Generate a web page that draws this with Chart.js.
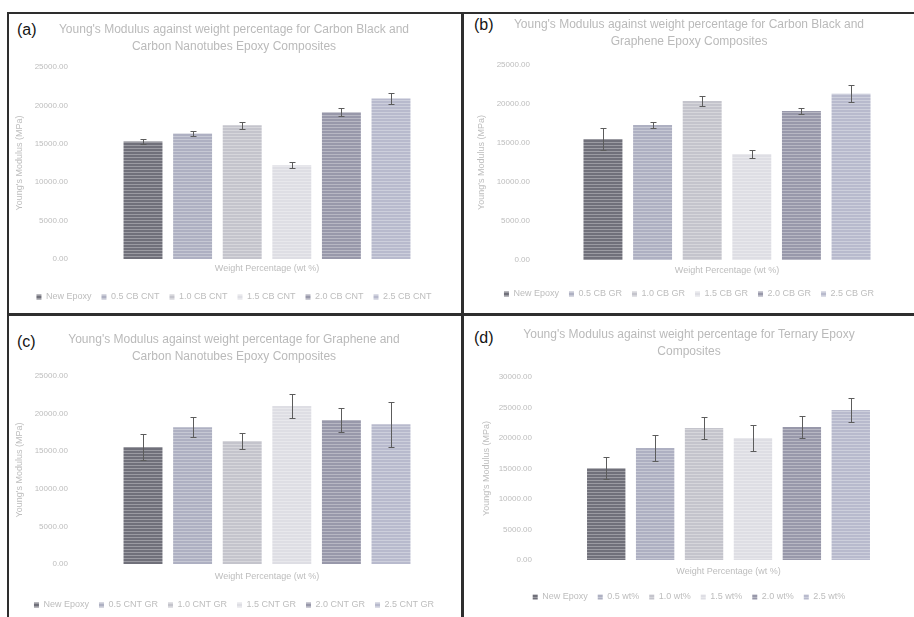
<!DOCTYPE html>
<html>
<head>
<meta charset="utf-8">
<script src="https://cdn.jsdelivr.net/npm/chart.js@4.4.0/dist/chart.umd.min.js"></script>
<style>
  body { margin: 0; background: #fff; width: 914px; height: 617px; overflow: hidden; position: relative; font-family: "Liberation Sans", Arial, sans-serif; }
  canvas, .line, .tag { position: absolute; }
  .line { background: #2e2e2e; }
  .tag { font-size: 16px; line-height: 16px; color: #141414; }
</style>
</head>
<body>
<div class="line" style="left:7px;top:12px;width:907px;height:2px"></div>
<div class="line" style="left:7px;top:12px;width:2px;height:605px"></div>
<div class="line" style="left:461px;top:12px;width:3px;height:605px"></div>
<div class="line" style="left:7px;top:313px;width:907px;height:3px"></div>
<div class="tag" style="left:17px;top:22px">(a)</div>
<div class="tag" style="left:474px;top:17px">(b)</div>
<div class="tag" style="left:17px;top:334px">(c)</div>
<div class="tag" style="left:474px;top:330px">(d)</div>
<canvas id="chartA" width="452" height="299" style="left:9px;top:14px"></canvas>
<canvas id="chartB" width="450" height="299" style="left:464px;top:14px"></canvas>
<canvas id="chartC" width="452" height="310" style="left:9px;top:316px"></canvas>
<canvas id="chartD" width="450" height="310" style="left:464px;top:316px"></canvas>
<script>
'use strict';

// Séries (uma barra por série, como no Excel)
const seriesA = ['New Epoxy', '0.5 CB CNT', '1.0 CB CNT', '1.5 CB CNT', '2.0 CB CNT', '2.5 CB CNT'];
const seriesB = ['New Epoxy', '0.5 CB GR', '1.0 CB GR', '1.5 CB GR', '2.0 CB GR', '2.5 CB GR'];
const seriesC = ['New Epoxy', '0.5 CNT GR', '1.0 CNT GR', '1.5 CNT GR', '2.0 CNT GR', '2.5 CNT GR'];
const seriesD = ['New Epoxy', '0.5 wt%', '1.0 wt%', '1.5 wt%', '2.0 wt%', '2.5 wt%'];

// Módulo de Young (MPa)
const modulusA = [15300, 16350, 17400, 12200, 19100, 20900];
const modulusB = [15500, 17300, 20400, 13600, 19100, 21300];
const modulusC = [15550, 18200, 16350, 21000, 19150, 18600];
const modulusD = [15050, 18350, 21650, 20000, 21800, 24600];

// Barras de erro (+/-)
const errorA = [300, 300, 500, 400, 500, 700];
const errorB = [1400, 400, 600, 500, 400, 1100];
const errorC = [1700, 1300, 1100, 1600, 1650, 3000];
const errorD = [1800, 2100, 1800, 2100, 1800, 2000];

// Eixo Y
const yMaxA = 25000, yMaxB = 25000, yMaxC = 25000, yMaxD = 30000;
const yStep = 5000;

// Títulos
const titleA = ["Young's Modulus against weight percentage for Carbon Black and", 'Carbon Nanotubes Epoxy Composites'];
const titleB = ["Young's Modulus against weight percentage for Carbon Black and", 'Graphene Epoxy Composites'];
const titleC = ["Young's Modulus against weight percentage for Graphene and", 'Carbon Nanotubes Epoxy Composites'];
const titleD = ["Young's Modulus against weight percentage for Ternary Epoxy", 'Composites'];
const xTitle = 'Weight Percentage (wt %)';
const yTitle = "Young's Modulus (MPa)";

// Cores das barras (tons de cinza da digitalização)
const barColors = ['#70707a', '#aeb0c2', '#c4c4cc', '#dedee4', '#9898aa', '#b8bacd'];
const textColor = '#bdbdbd';

// Textura de linhas horizontais para imitar a impressão
function stripes(color) {
    const c = document.createElement('canvas');
    c.width = 4; c.height = 3;
    const g = c.getContext('2d');
    g.fillStyle = color;
    g.fillRect(0, 0, 4, 3);
    g.fillStyle = 'rgba(255,255,255,0.3)';
    g.fillRect(0, 2, 4, 1);
    return g.createPattern(c, 'repeat');
}

// Plugin simples para as barras de erro
const errorBars = {
    id: 'errorBars',
    afterDatasetsDraw(chart, args, opts) {
        const ctx = chart.ctx;
        const y = chart.scales.y;
        ctx.save();
        ctx.strokeStyle = '#5c5c5c';
        ctx.lineWidth = 1;
        chart.data.datasets.forEach((ds, i) => {
            const bar = chart.getDatasetMeta(i).data[0];
            const v = ds.data[0];
            const e = opts.errors[i];
            const x = Math.round(bar.x) + 0.5;
            const yT = Math.round(y.getPixelForValue(v + e)) + 0.5;
            const yB = Math.round(y.getPixelForValue(v - e)) + 0.5;
            ctx.beginPath();
            ctx.moveTo(x, yT); ctx.lineTo(x, yB);
            ctx.moveTo(x - 3, yT); ctx.lineTo(x + 3, yT);
            ctx.moveTo(x - 3, yB); ctx.lineTo(x + 3, yB);
            ctx.stroke();
        });
        ctx.restore();
    }
};

function renderPanel(id, title, series, values, errors, yMax, g) {
    const pTop = g.t1 - 8.4;
    const xPadTop = g.xt - g.bottom - 5.4;
    const legendTop = g.lg - 10 - 4.5;
    const xPadBottom = legendTop - g.bottom - 10.8 - xPadTop;
    const ctx = document.getElementById(id).getContext('2d');
    new Chart(ctx, {
        type: 'bar',
        data: {
            labels: [''],
            datasets: series.map((name, i) => ({
                label: name,
                data: [values[i]],
                backgroundColor: stripes(barColors[i]),
                borderWidth: 0,
                categoryPercentage: g.cat,
                barPercentage: 0.785
            }))
        },
        options: {
            responsive: false,
            animation: false,
            devicePixelRatio: 1,
            layout: {
                padding: { left: 0, top: 0, right: g.w - g.plotR, bottom: g.h - legendTop - 29 }
            },
            plugins: {
                title: {
                    display: true,
                    text: title,
                    color: '#bababa',
                    font: { family: 'Liberation Sans', size: 12, weight: 'normal', lineHeight: 1.4 },
                    padding: { top: pTop, bottom: g.top - pTop - 33.6 }
                },
                legend: {
                    position: 'bottom',
                    labels: {
                        color: textColor,
                        boxWidth: 5,
                        boxHeight: 5,
                        padding: 10,
                        font: { family: 'Liberation Sans', size: 9 }
                    }
                },
                tooltip: { enabled: false },
                errorBars: { errors: errors }
            },
            scales: {
                x: {
                    grid: { display: false, drawTicks: false },
                    border: { display: false },
                    ticks: { display: false },
                    title: {
                        display: true,
                        text: xTitle,
                        color: textColor,
                        font: { family: 'Liberation Sans', size: 9 },
                        padding: { top: xPadTop, bottom: xPadBottom }
                    }
                },
                y: {
                    min: 0,
                    max: yMax,
                    grid: { display: false, drawTicks: false },
                    border: { display: false },
                    ticks: {
                        stepSize: yStep,
                        padding: g.gap,
                        color: textColor,
                        font: { family: 'Liberation Sans', size: 8 },
                        callback: v => v.toFixed(2)
                    },
                    title: {
                        display: true,
                        text: yTitle,
                        color: textColor,
                        font: { family: 'Liberation Sans', size: 9 },
                        padding: { top: g.yt - 5.4, bottom: 0 }
                    },
                    afterFit: s => { s.width = g.plotL; }
                }
            }
        },
        plugins: [errorBars]
    });
}

renderPanel('chartA', titleA, seriesA, modulusA, errorA, yMaxA,
    { w: 452, h: 299, plotL: 66, plotR: 450, gap: 7, yt: 11, t1: 16, top: 53, bottom: 245, xt: 255, lg: 283, cat: 0.775 });
renderPanel('chartB', titleB, seriesB, modulusB, errorB, yMaxB,
    { w: 450, h: 299, plotL: 76, plotR: 450, gap: 10, yt: 18, t1: 11, top: 51, bottom: 246, xt: 257, lg: 280, cat: 0.796 });
renderPanel('chartC', titleC, seriesC, modulusC, errorC, yMaxC,
    { w: 452, h: 310, plotL: 66, plotR: 450, gap: 7, yt: 11, t1: 24, top: 60, bottom: 248, xt: 261, lg: 289, cat: 0.775 });
renderPanel('chartD', titleD, seriesD, modulusD, errorD, yMaxD,
    { w: 450, h: 310, plotL: 79, plotR: 450, gap: 11, yt: 23, t1: 19, top: 61, bottom: 244, xt: 256, lg: 281, cat: 0.791 });
</script>
</body>
</html>
